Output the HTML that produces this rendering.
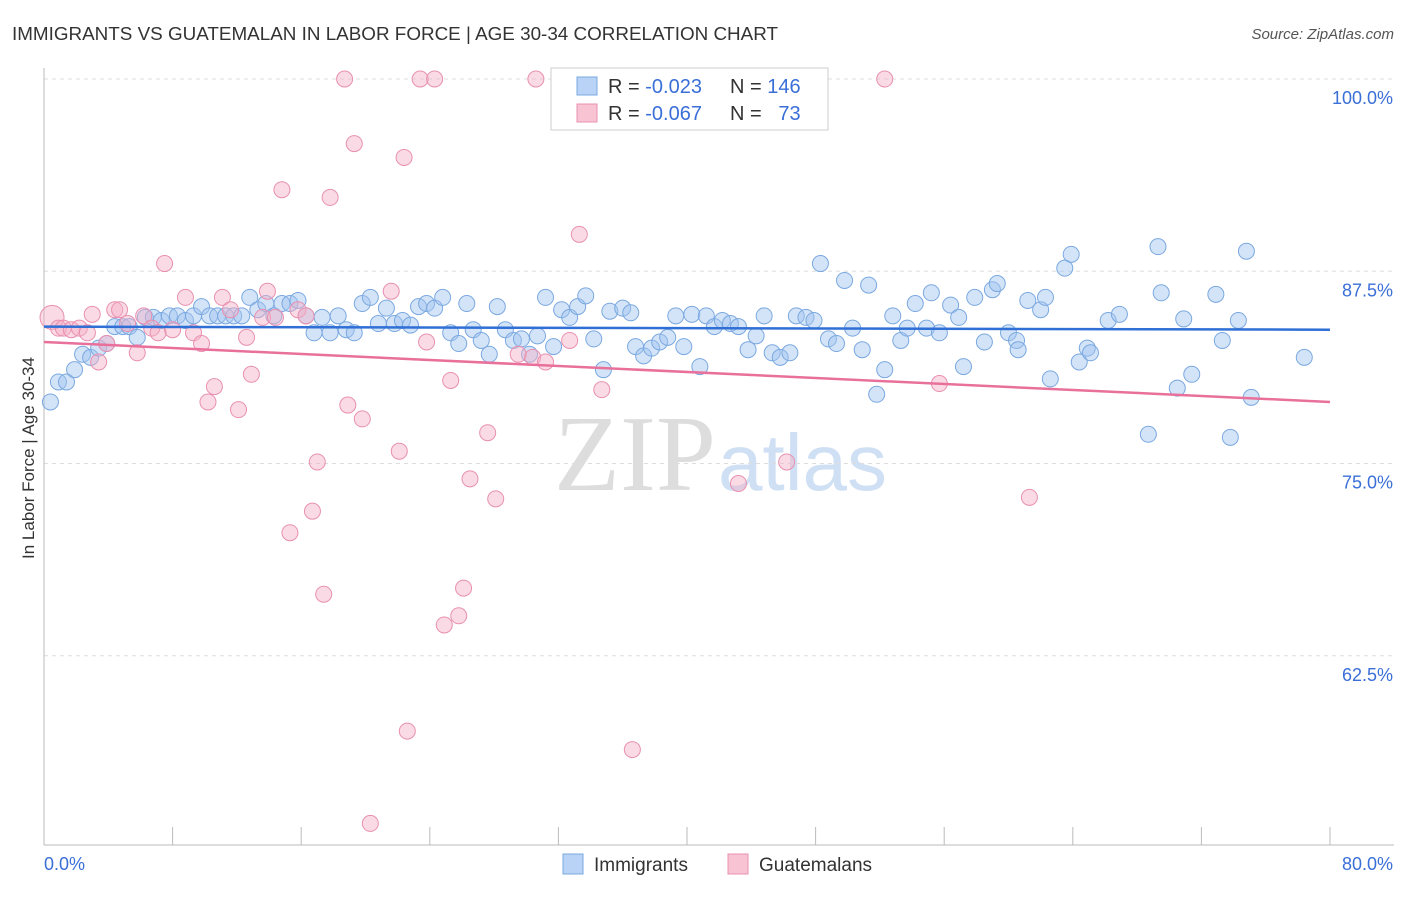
<!DOCTYPE html>
<html><head><meta charset="utf-8"><style>
body{margin:0;background:#fff;font-family:"Liberation Sans",sans-serif}
</style></head><body>
<svg id="chart" width="1406" height="892" xmlns="http://www.w3.org/2000/svg">
<text x="12" y="40" font-size="18" fill="#333" textLength="766" lengthAdjust="spacingAndGlyphs">IMMIGRANTS VS GUATEMALAN IN LABOR FORCE | AGE 30-34 CORRELATION CHART</text>
<text x="1394" y="39" font-size="15" fill="#555" text-anchor="end" font-style="italic">Source: ZipAtlas.com</text>
<text x="34" y="458" font-size="17" fill="#333" text-anchor="middle" transform="rotate(-90 34 458)">In Labor Force | Age 30-34</text>
<text x="716" y="490" font-size="108" fill="#ddd" text-anchor="end" font-family="Liberation Serif">ZIP</text>
<text x="718" y="490" font-size="80" fill="#cfe0f5">atlas</text>
<g id="grid"></g><g id="axes"></g><g id="pts"></g><g id="trend"></g>
<g>
<rect x="551" y="68" width="277" height="62" fill="#fff" stroke="#ccc"/>
<rect x="577" y="77" width="20" height="18" fill="#b8d3f5" stroke="#7aa8e0"/>
<rect x="577" y="104" width="20" height="18" fill="#f8c4d4" stroke="#e890b0"/>
<text x="608" y="93" font-size="20" fill="#333">R = <tspan fill="#3a6fd8">-0.023</tspan></text>
<text x="730" y="93" font-size="20" fill="#333">N = <tspan fill="#3a6fd8">146</tspan></text>
<text x="608" y="120" font-size="20" fill="#333">R = <tspan fill="#3a6fd8">-0.067</tspan></text>
<text x="730" y="120" font-size="20" fill="#333">N = <tspan fill="#3a6fd8">&#160;&#160;73</tspan></text>
</g>
<g>
<rect x="563" y="854" width="20" height="20" fill="#b8d3f5" stroke="#7aa8e0"/>
<text x="594" y="871" font-size="19" fill="#333">Immigrants</text>
<rect x="728" y="854" width="20" height="20" fill="#f8c4d4" stroke="#e890b0"/>
<text x="759" y="871" font-size="19" fill="#333">Guatemalans</text>
</g>
</svg>
<script>
const xTicks=[0,10,20,30,40,50,60,70,80];
const yTicks=[62.5,75,87.5,100];
const yTickLabels=["62.5%","75.0%","87.5%","100.0%"];
const blueX=[0.4,0.9,1.4,1.9,2.4,2.9,3.4,3.9,4.4,4.9,5.3,5.8,6.3,6.8,7.3,7.8,8.3,8.8,9.3,9.8,10.3,10.8,11.3,11.8,12.3,12.8,13.3,13.8,14.3,14.8,15.3,15.8,16.3,16.8,17.3,17.8,18.3,18.8,19.3,19.8,20.3,20.8,21.3,21.8,22.3,22.8,23.3,23.8,24.3,24.8,25.3,25.8,26.3,26.7,27.2,27.7,28.2,28.7,29.2,29.7,30.2,30.7,31.2,31.7,32.2,32.7,33.2,33.7,34.2,34.8,35.2,36.0,36.5,36.8,37.3,37.8,38.3,38.8,39.3,39.8,40.3,40.8,41.2,41.7,42.2,42.7,43.2,43.8,44.3,44.8,45.3,45.8,46.4,46.8,47.4,47.9,48.3,48.8,49.3,49.8,50.3,50.9,51.3,52.3,51.8,52.8,53.3,53.7,54.2,54.9,55.2,55.7,56.4,56.9,57.2,57.9,58.5,59.0,59.3,60.0,60.5,60.6,61.2,62.0,62.3,62.6,63.5,63.9,64.4,64.9,65.1,66.2,66.9,68.7,69.3,69.5,70.5,70.9,71.4,72.9,73.3,73.8,74.3,74.8,75.1,78.4];
const blueY=[79.0,80.3,80.3,81.1,82.1,81.9,82.5,82.8,83.9,83.9,83.9,83.2,84.5,84.5,84.3,84.6,84.6,84.3,84.6,85.2,84.6,84.6,84.6,84.6,84.6,85.8,85.0,85.4,84.6,85.4,85.4,85.6,84.6,83.5,84.5,83.5,84.6,83.7,83.5,85.4,85.8,84.1,85.1,84.1,84.3,84.0,85.2,85.4,85.1,85.8,83.5,82.8,85.4,83.7,83.0,82.1,85.2,83.7,83.0,83.1,82.1,83.3,85.8,82.6,85.0,84.5,85.2,85.9,83.1,81.1,84.9,85.1,84.8,82.6,82.0,82.5,82.9,83.2,84.6,82.6,84.7,81.3,84.6,83.9,84.3,84.1,83.9,82.4,83.3,84.6,82.2,81.9,82.2,84.6,84.5,84.3,88.0,83.1,82.8,86.9,83.8,82.4,86.6,81.1,79.5,84.6,83.0,83.8,85.4,83.8,86.1,83.5,85.3,84.5,81.3,85.8,82.9,86.3,86.7,83.5,83.0,82.4,85.6,85.0,85.8,80.5,87.7,88.6,81.6,82.5,82.2,84.3,84.7,76.9,89.1,86.1,79.9,84.4,80.8,86.0,83.0,76.7,84.3,88.8,79.3,81.9];
const pinkX=[0.5,0.9,1.2,1.7,2.2,2.7,3.0,3.4,3.9,4.4,4.7,5.2,5.8,6.2,6.7,7.1,7.5,8.0,8.8,9.3,9.8,10.2,10.6,11.1,11.6,12.1,12.6,12.9,13.6,13.9,14.4,14.8,15.3,15.8,16.3,16.7,17.0,17.4,17.8,18.7,18.9,19.3,19.8,20.3,21.6,22.1,22.4,22.6,23.4,23.8,24.3,24.9,25.3,25.8,26.1,26.5,27.6,28.1,29.5,30.4,30.6,31.2,32.7,33.3,34.7,36.6,43.2,46.2,52.3,55.7,61.3];
const pinkY=[84.5,83.8,83.8,83.7,83.8,83.5,84.7,81.6,82.8,85.0,85.0,84.1,82.2,84.6,83.8,83.5,88.0,83.7,85.8,83.5,82.8,79.0,80.0,85.8,85.0,78.5,83.2,80.8,84.5,86.2,84.5,92.8,70.5,85.0,84.6,71.9,75.1,66.5,92.3,100,78.8,95.8,77.9,51.6,86.2,75.8,94.9,57.6,100,82.9,100,64.5,80.4,65.1,66.9,74.0,77.0,72.7,82.1,81.9,100,81.6,83.0,89.9,79.8,56.4,73.7,75.1,100,80.2,72.8];
const blueTrend=[83.9,83.7];
const pinkTrend=[82.9,79.0];
const NS="http://www.w3.org/2000/svg";
const L=44,R=1330,T=79,B=845;
const sx=v=>L+(v/80)*(R-L);
const sy=v=>T+(100-v)*15.38;
function mk(tag,attrs,parent){const e=document.createElementNS(NS,tag);for(const k in attrs)e.setAttribute(k,attrs[k]);document.getElementById(parent).appendChild(e);return e;}
yTicks.forEach((t,i)=>{
 const g=mk('line',{x1:L,x2:1394,y1:sy(t),y2:sy(t),stroke:'#ddd','stroke-dasharray':'4,4'},'grid');
 
 
 const tx=mk('text',{x:1393,y:sy(t)+25,'font-size':18,fill:'#3a6fd8','text-anchor':'end'},'axes');
 tx.textContent=yTickLabels[i];
 
 
});
const ax=mk('line',{x1:L,x2:1394,y1:B,y2:B,stroke:'#bbb'},'axes');


const ay=mk('line',{x1:L,x2:L,y1:68,y2:B,stroke:'#bbb'},'axes');


for(let v=0;v<=80;v+=8){const tk=mk('line',{x1:sx(v),x2:sx(v),y1:B-18,y2:B,stroke:'#bbb'},'axes');
 
 }
[[0,'start',L],[80,'end',1393]].forEach(([v,a,x])=>{const t=mk('text',{x:x,y:870,'font-size':18,fill:'#3a6fd8','text-anchor':a},'axes');t.textContent=v.toFixed(1)+'%';
 
 });
function pts(xs,ys,fill,stroke,name){const n=Math.min(xs.length,ys.length);for(let i=0;i<n;i++){const c=mk('circle',{cx:sx(xs[i]),cy:sy(ys[i]),r:(name==='guatemalans-point'&&i===0)?12:8,fill:fill,stroke:stroke,'stroke-width':1},'pts');
 
 }}
pts(blueX,blueY,'rgba(160,196,240,0.45)','#7aa8e0','immigrants-point');
pts(pinkX,pinkY,'rgba(245,175,198,0.45)','#e890b0','guatemalans-point');
const bl=mk('line',{x1:sx(0),x2:sx(80),y1:sy(blueTrend[0]),y2:sy(blueTrend[1]),stroke:'#2f6fd6','stroke-width':2.5},'trend');


const pl=mk('line',{x1:sx(0),x2:sx(80),y1:sy(pinkTrend[0]),y2:sy(pinkTrend[1]),stroke:'#e8709a','stroke-width':2.5},'trend');


</script>
</body></html>
